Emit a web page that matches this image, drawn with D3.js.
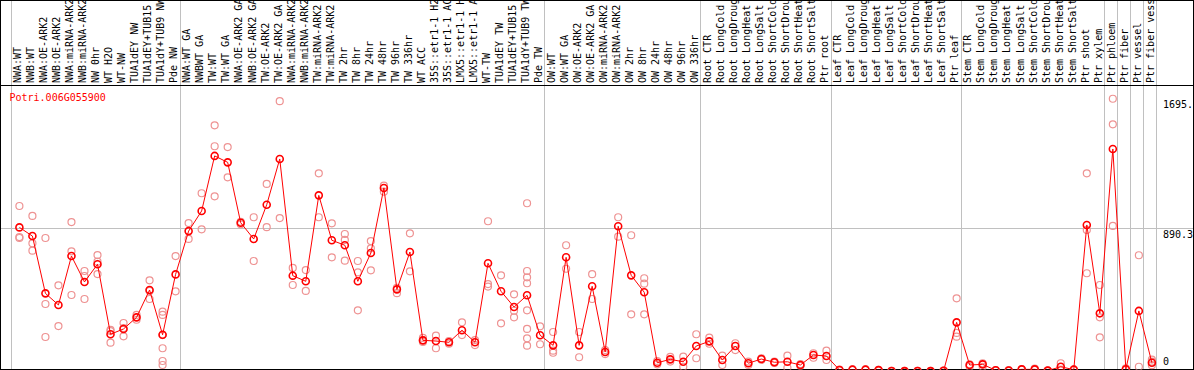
<!DOCTYPE html>
<html>
<head>
<meta charset="utf-8">
<script src="https://cdn.jsdelivr.net/npm/d3@7/dist/d3.min.js"></script>
<style>
    body { margin: 0; background: #fff; }
    svg text { font-family: "DejaVu Sans Mono", monospace; font-size: 10px; }
    .frame { stroke: #000; stroke-width: 1; fill: none; shape-rendering: crispEdges; }
    .grid { stroke: #c0c0c0; stroke-width: 1; shape-rendering: crispEdges; }
    .meanLine { stroke: #ff0000; stroke-width: 1; fill: none; }
    .meanDot { stroke: #ff0000; stroke-width: 1.6; fill: none; }
    .repDot { stroke: #ee9393; stroke-width: 1.2; fill: none; }
</style>
</head>
<body>
<div id="chart"></div>
<script>
// gene shown in the plot
var geneName = "Potri.006G055900";

// sample names, left to right
var samples = [
    "NWA:WT", "NWB:WT", "NWA:OE-ARK2", "NWB:OE-ARK2", "NWA:miRNA-ARK2", "NWB:miRNA-ARK2",
    "NW 0hr", "WT H2O", "WT-NW", "TUA1dEY NW", "TUA1dEY+TUB15 NW", "TUA1dY+TUB9 NW", "Pde NW",
    "NWA:WT GA", "NWBWT GA", "TW:WT", "TW:WT GA", "NWA:OE-ARK2 GA", "NWB:OE-ARK2 GA",
    "TW:OE-ARK2", "TW:OE-ARK2 GA", "NWA:miRNA-ARK2 GA", "NWB:miRNA-ARK2 GA", "TW:miRNA-ARK2",
    "TW:miRNA-ARK2 GA", "TW 2hr", "TW 8hr", "TW 24hr", "TW 48hr", "TW 96hr", "TW 336hr", "WT ACC",
    "35S::etr1-1 H2O", "35S::etr1-1 ACC", "LMX5::etr1-1 H2O", "LMX5::etr1-1 ACC", "WT-TW",
    "TUA1dEY TW", "TUA1dEY+TUB15 TW", "TUA1dY+TUB9 TW", "Pde TW",
    "OW:WT", "OW:WT GA", "OW:OE-ARK2", "OW:OE-ARK2 GA", "OW:miRNA-ARK2", "OW:miRNA-ARK2 GA",
    "OW 2hr", "OW 8hr", "OW 24hr", "OW 48hr", "OW 96hr", "OW 336hr",
    "Root CTR", "Root LongCold", "Root LongDrought", "Root LongHeat", "Root LongSalt",
    "Root ShortCold", "Root ShortDrought", "Root ShortHeat", "Root ShortSalt", "Ptr root",
    "Leaf CTR", "Leaf LongCold", "Leaf LongDrought", "Leaf LongHeat", "Leaf LongSalt",
    "Leaf ShortCold", "Leaf ShortDrought", "Leaf ShortHeat", "Leaf ShortSalt", "Ptr leaf",
    "Stem CTR", "Stem LongCold", "Stem LongDrought", "Stem LongHeat", "Stem LongSalt",
    "Stem ShortCold", "Stem ShortDrought", "Stem ShortHeat", "Stem ShortSalt", "Ptr shoot",
    "Ptr xylem", "Ptr phloem", "Ptr fiber", "Ptr vessel", "Ptr fiber vessel"
];

// samples that open a new block (a grey divider is drawn before them)
var blockStarts = ["NWA:WT", "NWA:WT GA", "OW:WT", "Root CTR", "Leaf CTR", "Stem CTR",
    "Ptr phloem", "Ptr fiber", "Ptr vessel", "Ptr fiber vessel"];

// mean expression per sample
var means = [
    896, 842, 486, 414, 718, 557, 667, 232, 265, 337, 507, 229, 604,
    873, 998, 1340, 1300, 925, 824, 1037, 1321, 596, 561, 1095, 816, 785, 561, 737, 1141,
    511, 743, 194, 190, 182, 257, 182, 673, 499, 401, 474, 226,
    163, 710, 163, 530, 122, 903, 598, 493, 55, 76, 61, 159,
    188, 72, 159, 52, 78, 58, 61, 41, 103, 97,
    10, 12, 12, 9, 4, 3, 4, 3, 5, 306,
    41, 45, 8, 7, 14, 14, 6, 30, 12, 911,
    362, 1383, 15, 377, 55
];

// single replicates per sample
var replicates = [
    [1029, 836, 830], [967, 797, 751], [830, 420, 215], [536, 283], [929, 747, 476],
    [625, 594, 451], [724, 683, 606], [259, 252, 180], [302, 271, 219], [352, 322],
    [567, 501, 451], [372, 352, 227, 145, 66, 41], [718, 499],
    [923, 824], [1108, 884], [1530, 1400, 1089], [1395, 1207], [931, 915], [959, 687],
    [1166, 897], [1680, 954], [644, 538], [631, 501], [1232, 959], [921, 710],
    [855, 818, 689], [687, 617, 381], [811, 766, 629], [1155, 1118], [521, 487],
    [859, 623], [209, 195, 184], [223, 145], [190, 173], [306, 227], [196, 165],
    [934, 544, 528], [598, 300], [480, 378, 337],
    [1046, 625, 586, 549, 381, 265, 207, 161], [281, 170],
    [246, 130, 117], [785, 639], [246, 89], [605, 451], [134, 109], [959, 838],
    [847, 356], [580, 546, 356], [66, 45], [91, 62], [93, 30], [232, 83],
    [211, 173], [99, 41], [176, 134], [62, 41], [83, 74], [62, 54], [99, 24], [47, 35],
    [114, 86], [130, 72],
    [8, 12], [10, 14], [14, 10], [7, 11], [3, 5], [2, 4], [5, 3], [2, 4], [4, 6],
    [455, 240, 217],
    [45, 30], [52, 30], [6, 10], [5, 9], [12, 16], [10, 18], [4, 8], [52, 13], [10, 14],
    [1232, 880, 611],
    [538, 337, 213], [1695.3, 1536, 905], [10, 20], [723, 30], [75, 62, 40]
];

// value labels on the right side
var yTicks = [0, 890.3, 1695.3];
var yGrid = [890.3];
var yMax = 1780.6;

function drawChart() {
    var width = 1194, height = 370;
    var headerH = 85;          // space for the rotated sample names
    var right = 1193.5;

    var svg = d3.select("#chart").append("svg")
        .attr("width", width)
        .attr("height", height);

    svg.append("defs").append("clipPath").attr("id", "plotClip")
        .append("rect").attr("x", 0).attr("y", headerH).attr("width", right).attr("height", height - headerH - 0.5);

    var x = d3.scaleBand().domain(samples).range([10.5, 1156]);
    var step = x.step();
    var cx = function (s) { return x(s) + 8.9; };

    var y = d3.scaleLinear().domain([0, yMax]).range([371.6, headerH]);

    // horizontal grid line(s)
    svg.selectAll("line.hgrid").data(yGrid).enter().append("line")
        .attr("class", "grid")
        .attr("x1", 0).attr("x2", right)
        .attr("y1", function (d) { return Math.round(y(d)) + 0.5; })
        .attr("y2", function (d) { return Math.round(y(d)) + 0.5; });

    // block dividers run through the header and the plot
    var dividers = blockStarts.map(function (s) { return x(s); });
    dividers.push(x(samples[samples.length - 1]) + step);
    svg.selectAll("line.vgrid").data(dividers).enter().append("line")
        .attr("class", "grid")
        .attr("x1", function (d) { return Math.round(d) + 0.5; })
        .attr("x2", function (d) { return Math.round(d) + 0.5; })
        .attr("y1", 0).attr("y2", height);

    // rotated sample names
    svg.selectAll("text.sample").data(samples).enter().append("text")
        .attr("class", "sample")
        .attr("transform", function (d) { return "translate(" + (cx(d) + 1.8) + ",83) rotate(-90)"; })
        .attr("fill", "#000")
        .text(function (d) { return d; });

    // frame
    svg.append("line").attr("class", "frame").attr("x1", 0).attr("x2", width).attr("y1", 0.5).attr("y2", 0.5);
    svg.append("line").attr("class", "frame").attr("x1", 0).attr("x2", width).attr("y1", headerH + 0.5).attr("y2", headerH + 0.5);
    svg.append("line").attr("class", "frame").attr("x1", 0).attr("x2", width).attr("y1", 369.5).attr("y2", 369.5);
    svg.append("line").attr("class", "frame").attr("x1", 0.5).attr("x2", 0.5).attr("y1", 0).attr("y2", height);
    svg.append("line").attr("class", "frame").attr("x1", right).attr("x2", right).attr("y1", 0).attr("y2", height);

    var plot = svg.append("g").attr("clip-path", "url(#plotClip)");

    // value labels, hanging under their level
    plot.selectAll("text.ytick").data(yTicks).enter().append("text")
        .attr("class", "ytick")
        .attr("x", 1163)
        .attr("y", function (d) { return d === 0 ? 365 : y(d) + 9.5; })
        .attr("fill", "#000")
        .text(function (d) { return d; });

    // replicates
    var reps = [];
    samples.forEach(function (s, i) {
        replicates[i].forEach(function (v) { reps.push({ s: s, v: v }); });
    });
    plot.selectAll("circle.rep").data(reps).enter().append("circle")
        .attr("class", "repDot")
        .attr("cx", function (d) { return cx(d.s); })
        .attr("cy", function (d) { return y(d.v); })
        .attr("r", 3.5);

    // mean line with circles
    var line = d3.line()
        .x(function (d, i) { return cx(samples[i]); })
        .y(function (d) { return y(d); });
    plot.append("path").datum(means).attr("class", "meanLine").attr("d", line);

    plot.selectAll("circle.mean").data(means).enter().append("circle")
        .attr("class", "meanDot")
        .attr("cx", function (d, i) { return cx(samples[i]); })
        .attr("cy", function (d) { return y(d); })
        .attr("r", 3.5);

    // gene name
    svg.append("text")
        .attr("x", 9.5).attr("y", 101)
        .attr("fill", "#ff0000")
        .text(geneName);
}

drawChart();
</script>
</body>
</html>
